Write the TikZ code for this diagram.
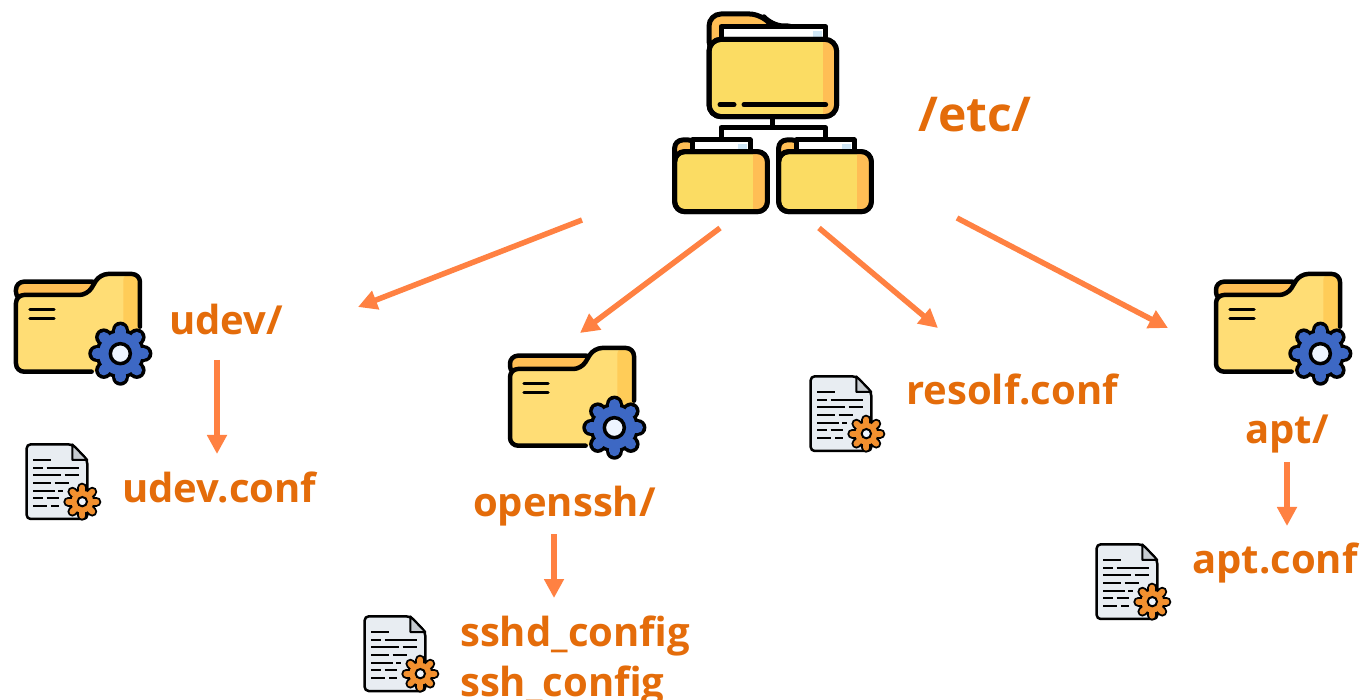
\documentclass[tikz,border=0pt]{standalone}
\usepackage{fontspec}
\usetikzlibrary{arrows.meta}
\setmainfont{Open Sans}
\definecolor{txtc}{HTML}{E46C0A}
\definecolor{arrc}{HTML}{FF8142}
\definecolor{fy}{HTML}{FBDC63}
\definecolor{fo}{HTML}{FFBE55}
\definecolor{gy}{HTML}{FFDD75}
\definecolor{go}{HTML}{FFCC58}
\definecolor{gb}{HTML}{3D68C4}
\definecolor{hole}{HTML}{EEF5FF}
\definecolor{pg}{HTML}{E8EDF2}
\definecolor{pd}{HTML}{C6CBD0}
\definecolor{gor}{HTML}{F2902F}
\definecolor{pb}{HTML}{CFE6F5}
\newcommand{\gearicon}[8]{% x y bodyR toothR toothW holeR colour outlineW
  \foreach \a in {0,45,...,315}
    \draw[black,line width=#5+2*#8,line cap=round,shift={(#1,#2)}] (\a:#3) -- (\a:#4);
  \fill[black] (#1,#2) circle[radius=#3+#8*3];
  \foreach \a in {0,45,...,315}
    \draw[#7,line width=#5,line cap=round,shift={(#1,#2)}] (\a:#3) -- (\a:#4);
  \fill[#7] (#1,#2) circle[radius=#3];
  \draw[black,fill=hole,line width=#8] (#1,#2) circle[radius=#6];
}
\tikzset{
  x=1pt,y=-1pt,
  lbl/.style={anchor=base west,inner sep=0pt,text=txtc,font=\bfseries\fontsize{40}{40}\selectfont},
  flow/.style={draw=arrc,line width=5.5pt,-{Triangle[length=19pt,width=19pt]}},
  ol/.style={draw=black,line width=5pt,line join=round},
  ols/.style={draw=black,line width=4.5pt,line join=round},
  folderGear/.pic={
    \begin{scope}[scale=1/3]
      \filldraw[fill=fo,ols,rounded corners=8pt] (48,120) -- (48,65) -- (300,65) -- (300,120) -- cycle;
      \fill[gy,rounded corners=8pt] (48,335) -- (48,105) -- (262,105) -- (300,42) -- (420,42) -- (420,335) -- cycle;
      \fill[go,rounded corners=6pt] (370,42) -- (420,42) -- (420,300) -- (370,300) -- cycle;
      \draw[ols,rounded corners=8pt,line cap=round] (275,335) -- (48,335) -- (48,105) -- (262,105) -- (300,42) -- (420,42) -- (420,200);
      \draw[black,line width=3.5pt,line cap=round] (90,148) -- (162,148) (90,176) -- (162,176);
      \gearicon{361}{281}{64}{70}{10.5pt}{30}{gb}{3.5pt}
    \end{scope}
  },
  docGear/.pic={
    \begin{scope}[scale=1/3]
      \filldraw[fill=pg,draw=black,line width=2.5pt,rounded corners=4pt] (38,28) -- (175,28) -- (220,75) -- (220,252) -- (38,252) -- cycle;
      \filldraw[fill=pd,draw=black,line width=2pt,line join=round] (175,28) -- (175,75) -- (220,75) -- cycle;
      \draw[black,line width=2.2pt]
        (58,75) -- (110,75)
        (58,98) -- (86,98) (98,98) -- (196,98)
        (58,121) -- (142,121) (152,121) -- (196,121)
        (58,144) -- (110,144) (122,144) -- (165,144)
        (58,167) -- (122,167) (132,167) -- (148,167)
        (58,190) -- (86,190) (98,190) -- (135,190)
        (58,213) -- (100,213) (112,213) -- (135,213);
      \gearicon{205}{200}{33}{42}{6pt}{14}{gor}{2pt}
    \end{scope}
  },
  smallFolder/.pic={
    \begin{scope}[scale=1/3]
    \filldraw[fill=fo,ol,rounded corners=8pt] (44,520) -- (44,420) -- (110,420) -- (110,520) -- cycle;
    \filldraw[fill=white,ol] (97,420) -- (270,420) -- (270,460) -- (97,460) -- cycle;
    \fill[pb] (233,431) rectangle (260,449);
    \filldraw[fill=fy,ol,rounded corners=10pt] (44,455) rectangle (322,635);
    \begin{scope}
      \clip[rounded corners=8pt] (47,458) rectangle (319,632);
      \fill[fo] (280,458) rectangle (319,632);
    \end{scope}
    \draw[ol,rounded corners=10pt] (44,455) rectangle (322,635);
    \end{scope}
  },
}
\begin{document}
\begin{tikzpicture}[x=1pt,y=-1pt]
\useasboundingbox (0,0) rectangle (1361,700);
\fill[white] (0,0) rectangle (1361,700);
% top icon
\begin{scope}[shift={(660,0)},scale=1/3]
  \draw[ol] (338,350) -- (338,385);
  \draw[ol] (183,415) -- (183,383) -- (497,383) -- (497,415);
  \filldraw[fill=fo,ol,rounded corners=12pt] (147,160) -- (147,42) -- (305,42) -- (335,78) -- (420,78) -- (420,160) -- cycle;
  \filldraw[fill=white,ol] (183,80) -- (497,80) -- (497,120) -- (183,120) -- cycle;
  \fill[pb] (458,92) rectangle (487,110);
  \filldraw[fill=fy,ol,rounded corners=12pt] (147,118) rectangle (530,350);
  \begin{scope}
    \clip[rounded corners=10pt] (150,121) rectangle (527,347);
    \fill[fo] (490,121) rectangle (527,347);
  \end{scope}
  \draw[ol,rounded corners=12pt] (147,118) rectangle (530,350);
  \draw[ol,line cap=round] (180,314) -- (222,314) (252,314) -- (497,314);
\end{scope}
\pic at (660,0) {smallFolder};
\pic at (764,0) {smallFolder};
% folder icons
\pic at (0,260) {folderGear};
\pic at (494,334) {folderGear};
\pic at (1200,260) {folderGear};
% document icons
\pic at (14,435) {docGear};
\pic at (798,367) {docGear};
\pic at (352,607) {docGear};
\pic at (1084,535) {docGear};
% labels
\node[lbl,font=\bfseries\fontsize{48}{48}\selectfont] (etc) at (918,132) {/etc/};
\node[lbl] (udev) at (169,335) {udev/};
\node[lbl] (udevconf) at (122,503) {udev.conf};
\node[lbl] (openssh) at (473,517) {openssh/};
\node[lbl] (sshd) at (460,646.5) {sshd\_config};
\node[lbl] (ssh) at (460,696) {ssh\_config};
\node[lbl] (resolf) at (906,405) {resolf.conf};
\node[lbl] (apt) at (1245,444) {apt/};
\node[lbl] (aptconf) at (1192,573) {apt.conf};
% connector ends
\coordinate (a1) at (582,220); \coordinate (a2) at (358,307);
\coordinate (b1) at (720,228); \coordinate (b2) at (580,333);
\coordinate (c1) at (819,228); \coordinate (c2) at (938,328);
\coordinate (d1) at (957,218); \coordinate (d2) at (1168,328);
\coordinate (e1) at (217,360); \coordinate (e2) at (217,454);
\coordinate (f1) at (554,534); \coordinate (f2) at (554,598);
\coordinate (g1) at (1287,462); \coordinate (g2) at (1287,526);
\draw[flow] (a1) -- (a2);
\draw[flow] (b1) -- (b2);
\draw[flow] (c1) -- (c2);
\draw[flow] (d1) -- (d2);
\draw[flow] (e1) -- (e2);
\draw[flow] (f1) -- (f2);
\draw[flow] (g1) -- (g2);
\end{tikzpicture}
\end{document}
